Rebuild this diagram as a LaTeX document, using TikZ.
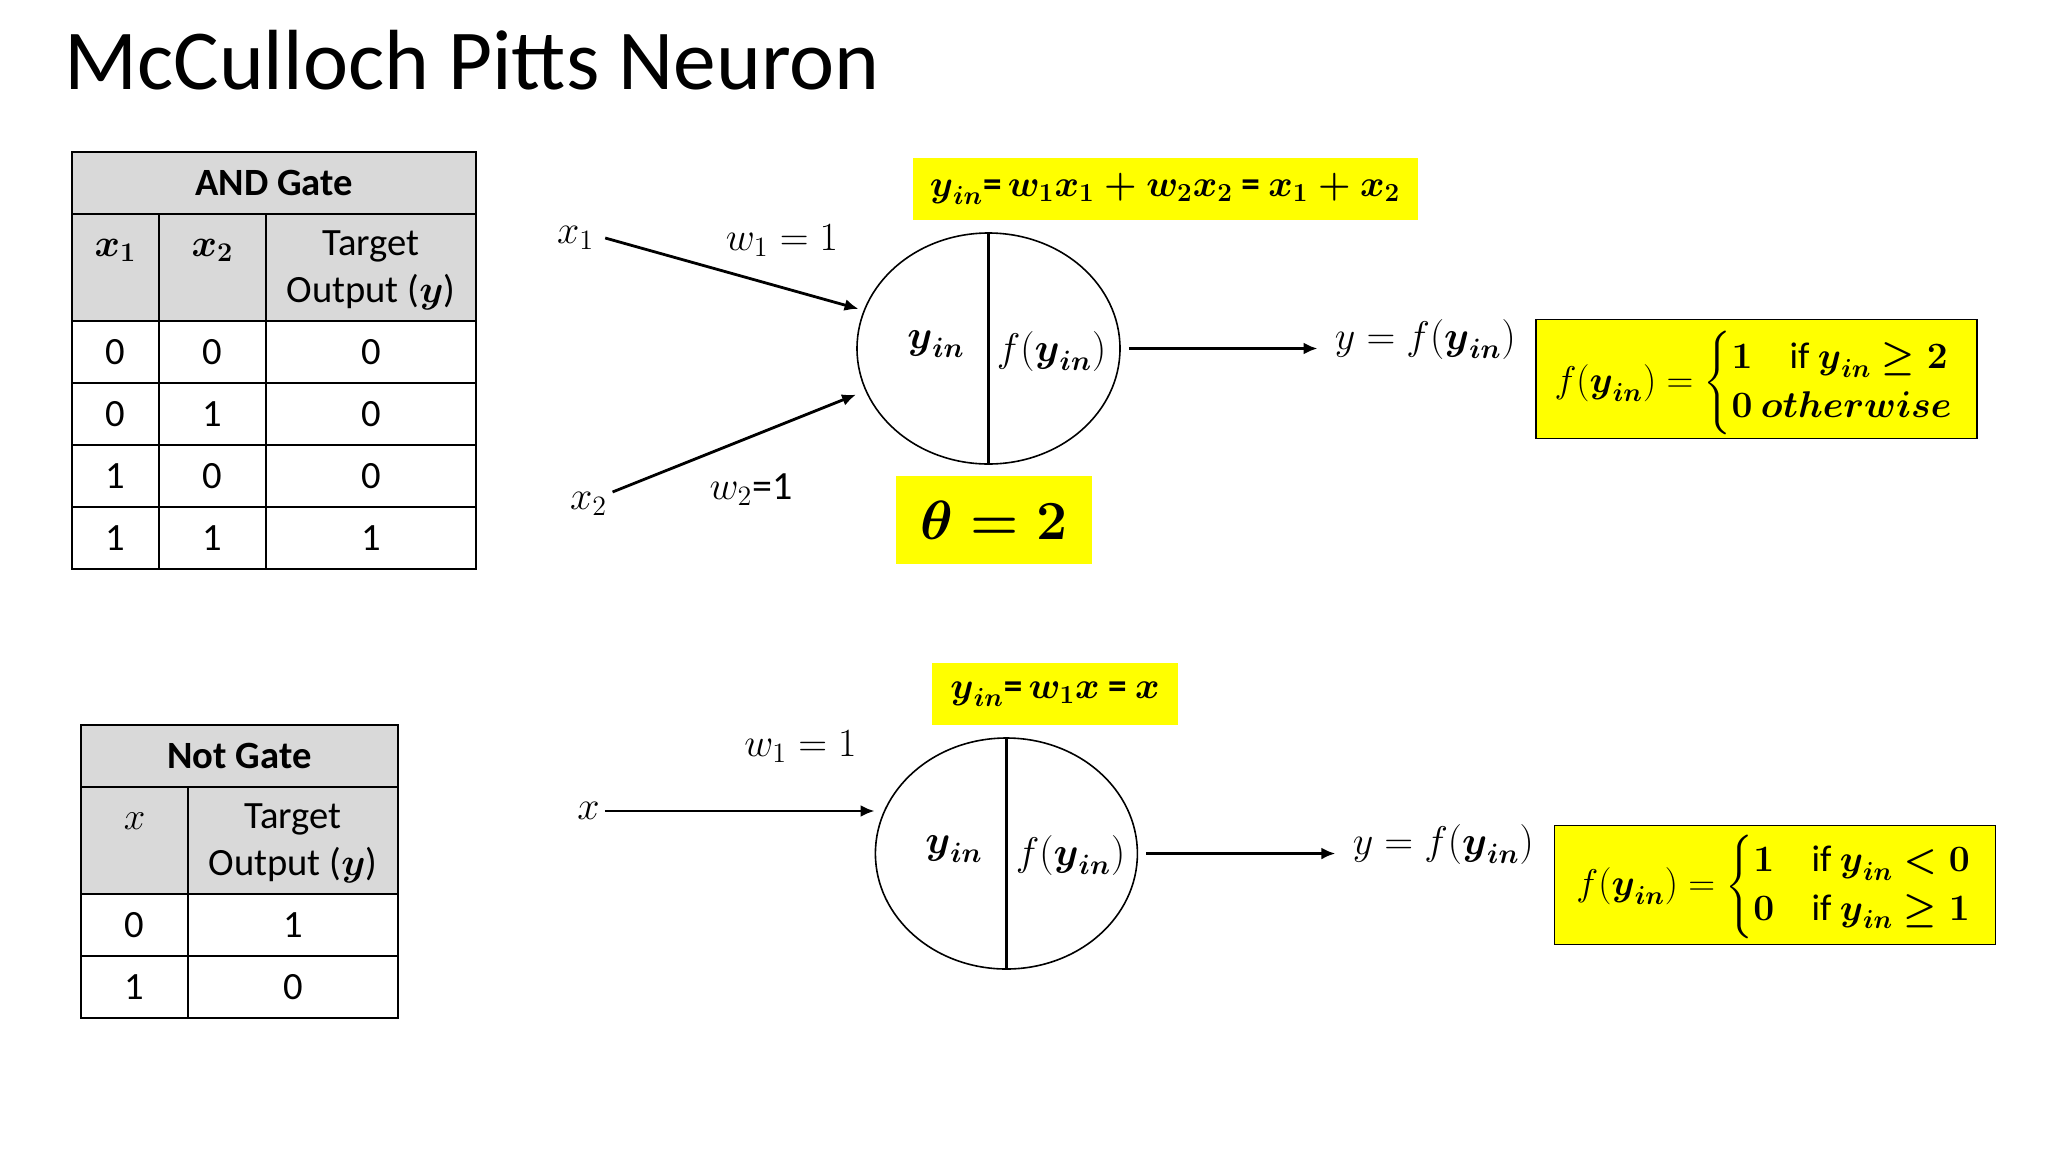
\documentclass[tikz,border=0pt]{standalone}
\usepackage{fix-cm}
\usepackage{amsmath}
\usepackage[no-math]{fontspec}
\setmainfont{Carlito}
\usetikzlibrary{positioning, calc, shapes.geometric, arrows.meta}
\tikzset{
    Arrow/.style = {
        line width=1.4pt,
        -{Latex[length=7pt, width=6pt]}
    },
    Cell/.style = {
        draw, line width=0.9pt,
        inner sep=0pt, outer sep=0pt,
        anchor=north west,
        align=center,
        font=\fontsize{19.3}{23.5}\selectfont
    },
    Head/.style = {Cell, fill=headFill},
    Title/.style = {minimum height=30.8pt},
    Tall/.style = {minimum height=53.6pt},
    Row/.style = {minimum height=31pt},
    Neuron/.style = {
        draw, ellipse, line width=0.8pt,
        minimum width=131.5pt, minimum height=115.5pt,
        inner sep=0pt
    },
    Label/.style = {
        inner sep=0pt,
        font=\fontsize{20}{24}\selectfont
    },
    Output/.style = {Label, inner xsep=8.5pt},
    Note/.style = {
        fill=noteFill, inner sep=0pt,
        font=\fontsize{18.6}{20.2}\selectfont
    },
    Rule/.style = {Note, draw, line width=0.6pt}
}
\definecolor{headFill}{HTML}{D9D9D9}
\definecolor{noteFill}{HTML}{FFFF00}
\newcommand{\yin}{\boldsymbol{y}_{\boldsymbol{in}}}
\newcommand{\headtop}{\rule{0pt}{15.9pt}}
\begin{document}
\begin{tikzpicture}[x=0.5pt, y=-0.5pt]
    \useasboundingbox (0,0) rectangle (2048,1152);

    \node[anchor=base west, inner sep=0pt, font=\fontsize{42.7}{50}\selectfont] (title) at (64,89) {McCulloch Pitts Neuron};

    % AND table
    \node[Head, Title, minimum width=202pt, font=\fontsize{19.3}{23}\selectfont\bfseries] (andT) at (72,152) {AND Gate};
    \node[Head, Tall, minimum width=43.5pt] (a1) at (andT.south west) {\raisebox{5.5pt}[0pt][0pt]{$\boldsymbol{x_1}$}};
    \node[Head, Tall, minimum width=53.5pt] (a2) at (a1.north east) {\raisebox{5.5pt}[0pt][0pt]{$\boldsymbol{x_2}$}};
    \node[Head, Tall, minimum width=105pt] (a3) at (a2.north east) {\headtop Target\\Output ($\boldsymbol{y}$)};
    \node[Cell, Row, minimum width=43.5pt] (b1) at (a1.south west) {0};
    \node[Cell, Row, minimum width=53.5pt] (b2) at (b1.north east) {0};
    \node[Cell, Row, minimum width=105pt] (b3) at (b2.north east) {0};
    \node[Cell, Row, minimum width=43.5pt] (c1) at (b1.south west) {0};
    \node[Cell, Row, minimum width=53.5pt] (c2) at (c1.north east) {1};
    \node[Cell, Row, minimum width=105pt] (c3) at (c2.north east) {0};
    \node[Cell, Row, minimum width=43.5pt] (d1) at (c1.south west) {1};
    \node[Cell, Row, minimum width=53.5pt] (d2) at (d1.north east) {0};
    \node[Cell, Row, minimum width=105pt] (d3) at (d2.north east) {0};
    \node[Cell, Row, minimum width=43.5pt] (e1) at (d1.south west) {1};
    \node[Cell, Row, minimum width=53.5pt] (e2) at (e1.north east) {1};
    \node[Cell, Row, minimum width=105pt] (e3) at (e2.north east) {1};

    % AND neuron
    \node[Neuron] (n1) at (988.5,348.5) {};
    \draw[line width=1.2pt] (n1.north) -- (n1.south);
    \node[Label] (n1in) at (936,344) {$\yin$};
    \node[Label] (n1f) at (1051.5,351) {$f(\yin)$};
    \node[Label, inner xsep=5.4pt] (x1) at (575.5,238) {$x_1$};
    \node[Label, inner xsep=2.6pt] (x2) at (588.5,504) {$x_2$};
    \node[Label] (w1) at (782,241) {$w_1=1$};
    \node[Label] (w2) at (751,490) {$w_2$=1};
    \draw[Arrow, shorten >=2.6pt] (x1.east) -- (n1.163);
    \draw[Arrow, shorten >=5pt] (x2.north east) -- (n1.199.5);
    \node[Output, anchor=west] (y1) at (1317.5,339) {$y=f(\yin)$};
    \draw[Arrow, shorten <=4pt] (n1.east) -- (y1.west |- n1.east);

    \node[Note, minimum width=252.5pt, minimum height=31pt] (eq1) at (1165,189) {$\yin\textbf{=}\,\boldsymbol{w_1x_1+w_2x_2}\textbf{ = }\boldsymbol{x_1+x_2}$};
    \node[Note, minimum width=98pt, minimum height=44pt, font=\fontsize{27.6}{32}\selectfont] (theta) at (994,520) {$\boldsymbol{\theta=2}$};
    \node[Rule, minimum width=220.5pt, minimum height=59.5pt] (rule1) at (1756.5,379) {\makebox[220pt][l]{\hspace*{9pt}\raisebox{-6.8pt}[0pt][0pt]{$f(\yin)=\begin{cases}\boldsymbol{1}\quad\text{if }\yin\boldsymbol{\geq 2}\\ \boldsymbol{0\ otherwise}\end{cases}$}}};

    % NOT table
    \node[Head, Title, minimum width=158.5pt, font=\fontsize{19.3}{23}\selectfont\bfseries] (notT) at (81,725) {Not Gate};
    \node[Head, Tall, minimum width=53.5pt] (f1) at (notT.south west) {\raisebox{5.3pt}[0pt][0pt]{$x$}};
    \node[Head, Tall, minimum width=105pt] (f2) at (f1.north east) {\headtop Target\\Output ($\boldsymbol{y}$)};
    \node[Cell, Row, minimum width=53.5pt] (g1) at (f1.south west) {0};
    \node[Cell, Row, minimum width=105pt] (g2) at (g1.north east) {1};
    \node[Cell, Row, minimum width=53.5pt] (h1) at (g1.south west) {1};
    \node[Cell, Row, minimum width=105pt] (h2) at (h1.north east) {0};

    % NOT neuron
    \node[Neuron, minimum width=131pt] (n2) at (1006.4,853.5) {};
    \draw[line width=1.2pt] (n2.north) -- (n2.south);
    \node[Label] (n2in) at (954,849) {$\yin$};
    \node[Label] (n2f) at (1070.5,855) {$f(\yin)$};
    \node[Label, inner xsep=2.5pt] (x3) at (588.4,811) {$x$};
    \node[Label] (w3) at (800.5,747) {$w_1=1$};
    \draw[Arrow] (x3.east) -- (x3.east -| n2.west);
    \node[Output, anchor=west] (y2) at (1335.4,844) {$y=f(\yin)$};
    \draw[Arrow, shorten <=4pt] (n2.east) -- (y2.west |- n2.east);

    \node[Note, minimum width=123pt, minimum height=31pt] (eq2) at (1055,694) {$\yin\textbf{=}\,\boldsymbol{w_1x}\textbf{ = }\boldsymbol{x}$};
    \node[Rule, minimum width=220.5pt, minimum height=59.5pt] (rule2) at (1775,885) {\makebox[220pt][l]{\hspace*{10.7pt}\raisebox{-5.4pt}[0pt][0pt]{$f(\yin)=\begin{cases}\boldsymbol{1}\quad\text{if }\yin\boldsymbol{<0}\\ \boldsymbol{0}\quad\text{if }\yin\boldsymbol{\geq 1}\end{cases}$}}};
\end{tikzpicture}
\end{document}
